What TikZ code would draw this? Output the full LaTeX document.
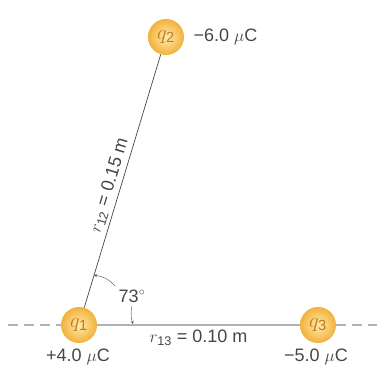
\documentclass[tikz,border=0pt]{standalone}
\usepackage{fontspec}
\setmainfont{Liberation Sans}
\usetikzlibrary{calc}
\definecolor{ballin}{RGB}{255,236,170}
\definecolor{ballout}{RGB}{243,176,60}
\definecolor{qtext}{RGB}{190,122,36}
\definecolor{inkgray}{RGB}{70,70,70}
\begin{document}
\begin{tikzpicture}[x=1pt, y=-1pt, >=stealth,
    font=\fontsize{18}{20}\selectfont, text=inkgray,
    charge/.style={circle, minimum size=36pt, inner sep=0pt,
      inner color=ballin, outer color=ballout, text=qtext,
      font=\fontsize{21}{22}\selectfont},
    axis/.style={draw=gray!60, line width=1.5pt, dash pattern=on 10pt off 6pt}]
    \useasboundingbox (0,0) rectangle (377,375);
    % the three charges
    \node[charge] (q1) at (79,325) {$q_{\mathrm{1}}$};
    \node[charge] (q2) at (166,37) {$q_{\mathrm{2}}$};
    \node[charge] (q3) at (318,325) {$q_{\mathrm{3}}$};
    \node[anchor=west] (c2) at (190,37) {−6.0 $\mu$C};
    \node (c1) at (78,357) {+4.0 $\mu$C};
    \node (c3) at (316,357) {−5.0 $\mu$C};
    % dashed x axis
    \coordinate (xl) at (8,325);
    \coordinate (xr) at (377,325);
    \draw[axis] (xl) -- (q1);
    \draw[axis] (q3) -- (xr);
    \draw[gray!60, line width=1.5pt] (q1) -- node[below=1pt, text=inkgray] {$r_{\mathrm{13}}$ = 0.10 m} (q3);
    \draw[inkgray, line width=0.7pt] (q1) -- node[pos=0.47, sloped, above=0pt] {$r_{\mathrm{12}}$ = 0.15 m} (q2);
    % angle
    \node (ang) at (132,296) {73$^\circ$};
    \coordinate (t12) at ($(q1.center)!52pt!(q2.center)$);
    \coordinate (t13) at (133,324);
    \draw[->, inkgray, thin] (ang.north west) to[bend right=20] (t12);
    \draw[->, inkgray, thin] (ang.south) to[bend right=15] (t13);
\end{tikzpicture}
\end{document}
